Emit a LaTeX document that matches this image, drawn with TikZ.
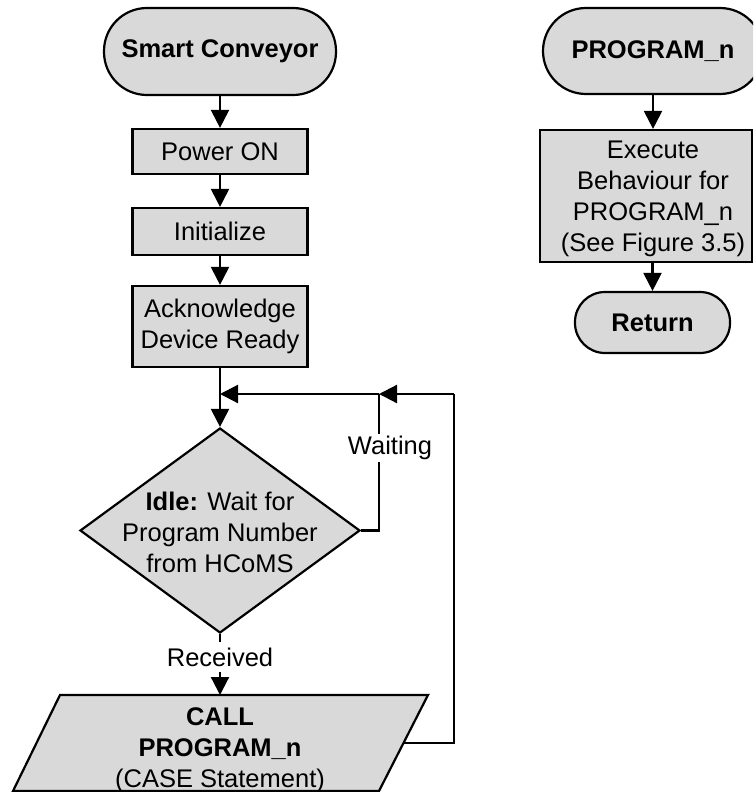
\documentclass[tikz,border=0pt]{standalone}
\usepackage{fontspec}
\setmainfont{Liberation Sans}
\usetikzlibrary{arrows.meta,shapes.geometric}
\definecolor{shapegray}{HTML}{D9D9D9}
\begin{document}
\begin{tikzpicture}[x=1pt,y=-1pt,
  line width=2.2pt,
  every node/.style={font=\fontsize{25.5}{31}\selectfont, align=center},
  arr/.style={-{Triangle[length=18pt,width=18pt]}},
  term/.style={draw, fill=shapegray, rectangle, inner sep=0pt},
  proc/.style={draw, fill=shapegray, rectangle, inner sep=0pt},
  dec/.style={draw, fill=shapegray, diamond, inner sep=0pt,
    minimum width=280, minimum height=205},
  iobox/.style={draw, fill=shapegray},
  lbl/.style={fill=white, inner sep=2pt}
]
\useasboundingbox (0,0) rectangle (753,792);
\clip (0,0) rectangle (753,792);

% main flow
\node[term, minimum width=232, minimum height=87, rounded corners=43] (sc) at (220,51.5) {\bfseries Smart Conveyor};
\node[proc, minimum width=175, minimum height=45] (pon) at (220,151.5) {Power ON};
\node[proc, minimum width=175, minimum height=47] (ini) at (220,231.5) {Initialize};
\node[proc, minimum width=175, minimum height=81] (ack) at (220,326.5) {Acknowledge\\Device Ready};
\node[dec] (idle) at (220,530.5) {};
\node (idletxt) at (220,532) {\textbf{Idle:} Wait for\\Program Number\\from HCoMS};
\node[inner sep=0pt, minimum height=28] (recv) at (220,657) {Received};

% input/output parallelogram
\coordinate (callBL) at (13,791);
\coordinate (callBR) at (379,791);
\coordinate (callTR) at (428,695);
\coordinate (callTL) at (60,695);
\coordinate (callT) at (220,695);
\coordinate (callR) at (403.5,743);
\draw[iobox] (callBL) -- (callBR) -- (callTR) -- (callTL) -- cycle;
\node (call) at (220,750) {\textbf{CALL}\\\textbf{PROGRAM\_n}\\(CASE Statement)};

% loop junctions
\coordinate (mainJ) at (220,394);
\coordinate (waitJ) at (379,394);
\coordinate (loopR) at (454,394);

\draw[arr] (sc.south) -- (pon.north);
\draw[arr] (pon.south) -- (ini.north);
\draw[arr] (ini.south) -- (ack.north);
\draw[arr] (ack.south) -- (idle.north);
\draw (idle.east) -| (waitJ);
\draw[arr] (waitJ) -- (mainJ);
\draw (callR) -| (loopR);
\draw[arr] (loopR) -- (waitJ);
\draw (idle.south) -- (recv.north);
\draw[arr] (recv.south) -- (callT);
\node[lbl] (wait) at (390,448) {Waiting};

% subroutine
\node[term, minimum width=220, minimum height=86, rounded corners=43] (pn) at (653,51) {\bfseries PROGRAM\_n};
\node[proc, minimum width=212, minimum height=132] (exec) at (646,196) {};
\node (exectxt) at (653,199) {Execute\\Behaviour for\\PROGRAM\_n\\(See Figure 3.5)};
\node[term, minimum width=155, minimum height=61, rounded corners=30] (ret) at (652.5,322.5) {\bfseries Return};

\draw[arr] (pn.south) -- (pn.south |- exec.north);
\draw[arr] (ret.north |- exec.south) -- (ret.north);
\end{tikzpicture}
\end{document}
